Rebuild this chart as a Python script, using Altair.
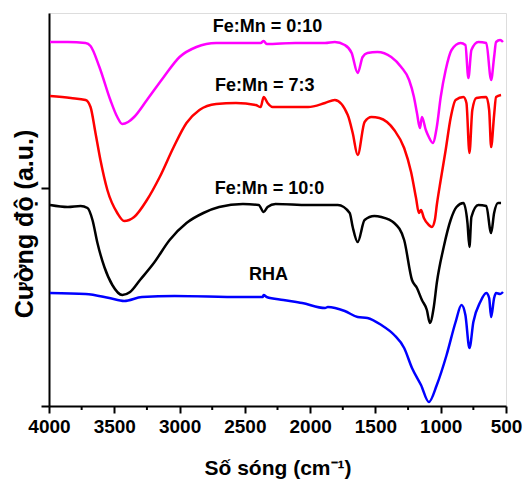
import altair as alt
import pandas as pd

# ---- data ----
mag_wn = [3992, 3856, 3720, 3682, 3614, 3530, 3477, 3439, 3394, 3348, 3250, 3121, 3000, 2871, 2720,
          2379, 2356, 2333, 2114, 1886, 1811, 1735, 1682, 1636, 1598, 1561, 1485, 1379, 1303, 1242,
          1205, 1182, 1159, 1144, 1114, 1091, 1061, 1030, 1000, 962, 917, 848, 811, 788, 765, 712,
          651, 614, 591, 576, 545, 523]
mag_in = [364, 364, 363, 360, 339, 306, 289, 282, 284, 289, 306, 329, 349, 359, 363,
          363, 365, 362, 363, 363, 364, 361, 353, 333, 349, 353, 354, 349, 339, 326,
          309, 293, 278, 289, 276, 269, 263, 279, 309, 336, 356, 363, 361, 328, 356, 364,
          363, 326, 349, 364, 366, 364]

red_wn = [3992, 3833, 3720, 3682, 3644, 3606, 3553, 3477, 3424, 3348, 3250, 3152, 3045, 2947, 2848,
          2720, 2568, 2417, 2379, 2356, 2326, 2288, 2205, 2015, 1886, 1811, 1712, 1674, 1636, 1583,
          1530, 1470, 1356, 1280, 1227, 1189, 1167, 1151, 1129, 1091, 1068, 1045, 1030, 1000, 962,
          924, 886, 826, 803, 780, 758, 727, 651, 629, 614, 591, 576, 538]
red_in = [310, 308, 306, 299, 273, 246, 216, 193, 185, 189, 206, 229, 259, 283, 296,
          302, 303, 301, 299, 309, 303, 299, 299, 299, 303, 306, 291, 273, 251, 284,
          289, 288, 276, 258, 234, 208, 193, 196, 188, 181, 179, 186, 201, 226, 256,
          288, 306, 309, 303, 253, 296, 308, 309, 296, 259, 291, 309, 311]

blk_wn = [3992, 3856, 3758, 3705, 3667, 3629, 3576, 3515, 3439, 3379, 3303, 3197, 3076, 2947, 2818,
          2697, 2515, 2394, 2356, 2326, 2265, 2015, 1886, 1788, 1697, 1674, 1636, 1583, 1508, 1455,
          1356, 1280, 1220, 1182, 1144, 1106, 1083, 1053, 1030, 977, 924, 879, 826, 795, 780, 765,
          712, 651, 614, 591, 561, 538]
blk_in = [201, 199, 200, 198, 186, 163, 139, 121, 111, 114, 126, 143, 166, 183, 193,
          199, 202, 201, 194, 199, 202, 201, 201, 201, 193, 179, 164, 186, 190, 189,
          183, 166, 126, 118, 106, 96, 83, 99, 123, 159, 186, 199, 203, 183, 159, 189,
          201, 200, 173, 193, 203, 203]

blu_wn = [3992, 3720, 3538, 3424, 3288, 3038, 2530, 2364, 2356, 2333, 2205, 2061, 1886, 1864, 1735,
          1636, 1561, 1455, 1356, 1280, 1220, 1151, 1091, 1030, 955, 886, 841, 811, 780, 750, 697,
          651, 629, 614, 591, 576, 545, 523]
blu_in = [113, 112, 108, 105, 109, 110, 109, 109, 111, 109, 106, 103, 98, 99, 95,
          89, 88, 81, 71, 58, 38, 21, 4, 21, 51, 84, 101, 91, 58, 84, 104,
          113, 108, 89, 108, 113, 112, 114]

series_names = ["Fe:Mn = 0:10", "Fe:Mn = 7:3", "Fe:Mn = 10:0", "RHA"]
series_colors = ["#FF00FF", "#FF0000", "#000000", "#0000FF"]

label_text = ["Fe:Mn = 0:10", "Fe:Mn = 7:3", "Fe:Mn = 10:0", "RHA"]
label_wn = [2326, 2348, 2311, 2318]
label_in = [374, 315, 212, 126]

major_ticks = [4000, 3500, 3000, 2500, 2000, 1500, 1000, 500]
minor_ticks = [3750, 3250, 2750, 2250, 1750, 1250, 750]
y_ticks = [0, 218]

# ---- build tables ----
rows = []
for name, w, i in zip(series_names, [mag_wn, red_wn, blk_wn, blu_wn], [mag_in, red_in, blk_in, blu_in]):
    for a, b in zip(w, i):
        rows.append({"series": name, "wn": a, "I": b})
df = pd.DataFrame(rows)
df_lab = pd.DataFrame({"t": label_text, "wn": label_wn, "I": label_in})
df_minor = pd.DataFrame({"m": minor_ticks})

FONT = "Liberation Sans"
W, H = 457, 393
xs = alt.Scale(domain=[500, 4000], reverse=True, nice=False, zero=False)
ys = alt.Scale(domain=[0, 393], nice=False, zero=False)

x_axis = alt.Axis(values=major_ticks, format="d", labelFontSize=19, labelFontWeight="bold",
                  labelFont=FONT, labelColor="black", tickSize=7, tickWidth=2, tickColor="black",
                  domainColor="black", domainWidth=2, grid=False, labelPadding=4,
                  labelFlush=False, labelOverlap=False,
                  title="Số sóng (cm⁻¹)", titleFont=FONT, titleFontSize=21, titleFontWeight="bold",
                  titleColor="black", titleX=W / 2, titleY=68, titleBaseline="alphabetic")
y_axis = alt.Axis(values=y_ticks, labels=False, tickSize=8, tickWidth=2, tickColor="black",
                  domainColor="black", domainWidth=2, grid=False,
                  title="Cường độ (a.u.)", titleFont=FONT, titleFontSize=25, titleFontWeight="bold",
                  titleColor="black", titleX=-25, titleY=H / 2 + 14, titleAngle=-90,
                  titleBaseline="middle", titleAlign="center")

lines = alt.Chart(df).mark_line(strokeWidth=2.5, interpolate="monotone").encode(
    x=alt.X("wn:Q", scale=xs, axis=x_axis),
    y=alt.Y("I:Q", scale=ys, axis=y_axis),
    color=alt.Color("series:N", scale=alt.Scale(domain=series_names, range=series_colors), legend=None),
    detail="series:N",
)

texts = alt.Chart(df_lab).mark_text(font=FONT, fontSize=18, fontWeight="bold", align="center",
                                    baseline="alphabetic", color="black").encode(
    x=alt.X("wn:Q", scale=xs), y=alt.Y("I:Q", scale=ys), text="t:N")

minor = alt.Chart(df_minor).mark_rule(color="black", strokeWidth=2).encode(
    x=alt.X("m:Q", scale=xs), y=alt.value(H), y2=alt.value(H + 4))

chart = alt.layer(lines, texts, minor).properties(
    width=W, height=H, autosize=alt.AutoSizeParams(type="none"),
    padding={"left": 41, "top": 5, "right": 17, "bottom": 73},
).configure_view(stroke="black", strokeWidth=2).configure(background="white")

chart.save("out.html", embed_options={"renderer": "svg", "actions": False})
